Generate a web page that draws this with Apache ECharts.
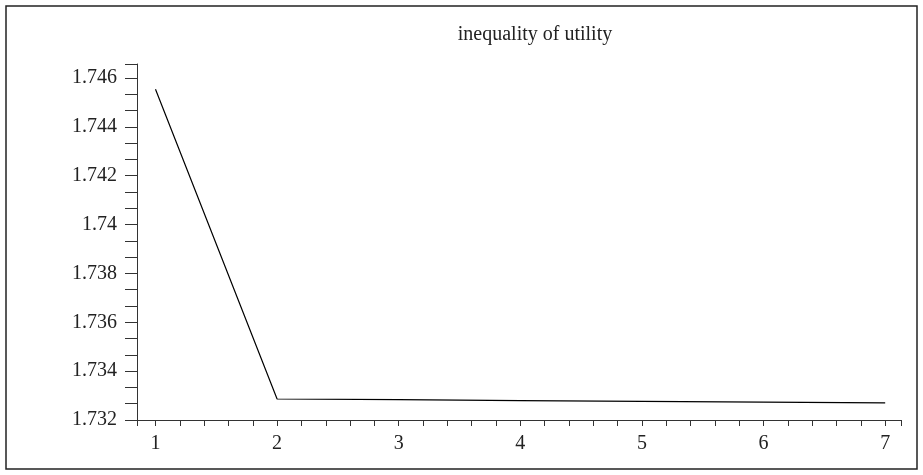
<!DOCTYPE html>
<html>
<head>
<meta charset="utf-8">
<script src="https://cdn.jsdelivr.net/npm/echarts@6/dist/echarts.min.js"></script>
<style>
html,body{margin:0;padding:0;background:#fff;}
#c{width:923px;height:475px;}
</style>
</head>
<body>
<div id="c"></div>
<script>
var titleText = 'inequality of utility';
var xValues = [1, 2, 3, 4, 5, 6, 7];
var yValues = [1.74554, 1.73286, 1.73283, 1.73279, 1.73276, 1.73273, 1.73270];
var xTickLabels = [1, 2, 3, 4, 5, 6, 7];
var yTickLabels = [1.732, 1.734, 1.736, 1.738, 1.74, 1.742, 1.744, 1.746];

var X_MIN = 0.848, X_MAX = 7.13;
var Y_MIN = 1.732, Y_MAX = 1.74657;

var xTicks = [X_MIN];
for (var i = 0; i <= 30; i++) xTicks.push(Math.round((1 + i * 0.2) * 1000) / 1000);
xTicks.push(X_MAX);
var yTicks = [];
for (var j = 0; j <= 21; j++) yTicks.push(Math.round((1.732 + j * 0.002 / 3) * 1e7) / 1e7);
yTicks = yTicks.filter(function (v) { return v <= Y_MAX; });
yTicks.push(Y_MAX);

var data = xValues.map(function (x, k) { return [x, yValues[k]]; });
var font = 'Liberation Serif';
var axisColor = '#333';

var chart = echarts.init(document.getElementById('c'), null, {renderer: 'canvas'});
chart.setOption({
  animation: false,
  backgroundColor: '#fff',
  title: {
    text: titleText,
    left: 530,
    top: 20,
    textAlign: 'center',
    textStyle: {fontFamily: font, fontSize: 20, fontWeight: 'normal', color: '#222'}
  },
  graphic: [{
    type: 'rect',
    shape: {x: 6, y: 6, width: 911, height: 463},
    style: {fill: 'none', stroke: '#222', lineWidth: 1.5},
    silent: true
  }],
  grid: {left: 137, right: 22, top: 64, bottom: 55, containLabel: false},
  xAxis: {
    type: 'value',
    min: X_MIN,
    max: X_MAX,
    axisLine: {show: true, onZero: false, lineStyle: {color: axisColor, width: 1}},
    axisTick: {show: true, length: 6, customValues: xTicks, lineStyle: {color: axisColor, width: 1}},
    axisLabel: {
      customValues: xTickLabels,
      margin: 14,
      fontFamily: font, fontSize: 20, color: '#222',
      formatter: function (v) { return String(v); }
    },
    splitLine: {show: false}
  },
  yAxis: {
    type: 'value',
    min: Y_MIN,
    max: Y_MAX,
    axisLine: {show: true, onZero: false, lineStyle: {color: axisColor, width: 1}},
    axisTick: {show: true, length: 12, customValues: yTicks, lineStyle: {color: axisColor, width: 1}},
    axisLabel: {
      customValues: yTickLabels,
      margin: 20,
      fontFamily: font, fontSize: 20, color: '#222',
      formatter: function (v) { return String(Math.round(v * 1000) / 1000); }
    },
    splitLine: {show: false}
  },
  series: [{
    type: 'line',
    data: data,
    showSymbol: false,
    symbol: 'none',
    lineStyle: {color: '#000', width: 1.2},
    silent: true
  }]
});
</script>
</body>
</html>
